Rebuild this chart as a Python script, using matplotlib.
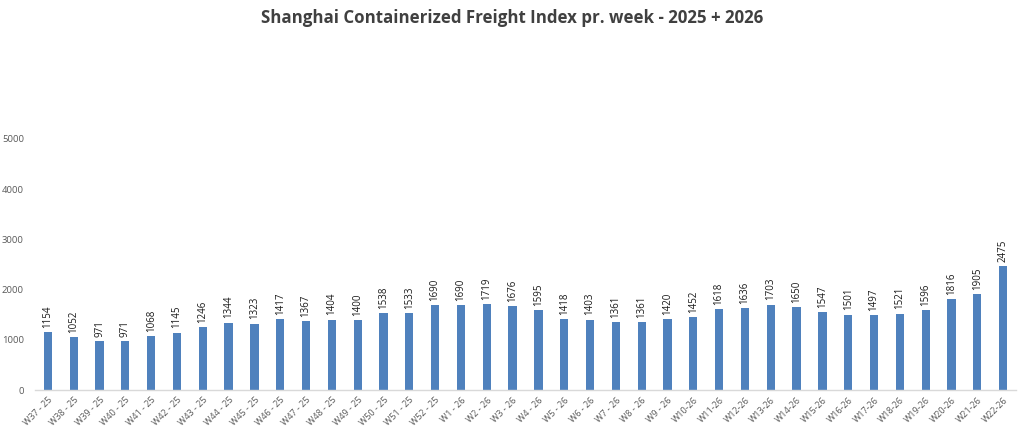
import matplotlib
matplotlib.use("Agg")
import matplotlib.pyplot as plt

weeks = [
    "W37 - 25", "W38 - 25", "W39 - 25", "W40 - 25", "W41 - 25", "W42 - 25",
    "W43 - 25", "W44 - 25", "W45 - 25", "W46 - 25", "W47 - 25", "W48 - 25",
    "W49 - 25", "W50 - 25", "W51 - 25", "W52 - 25",
    "W1 - 26", "W2 - 26", "W3 - 26", "W4 - 26", "W5 - 26", "W6 - 26",
    "W7 - 26", "W8 - 26", "W9 - 26",
    "W10-26", "W11-26", "W12-26", "W13-26", "W14-26", "W15-26", "W16-26",
    "W17-26", "W18-26", "W19-26", "W20-26", "W21-26", "W22-26",
]
scfi = [
    1154, 1052, 971, 971, 1068, 1145, 1246, 1344, 1323, 1417, 1367, 1404,
    1400, 1538, 1533, 1690,
    1690, 1719, 1676, 1595, 1418, 1403, 1361, 1361, 1420,
    1452, 1618, 1636, 1703, 1650, 1547, 1501, 1497, 1521, 1596, 1816, 1905, 2475,
]
yticks = [0, 1000, 2000, 3000, 4000, 5000]

plt.rcParams["font.family"] = ["Open Sans", "DejaVu Sans"]

W, H = 1024, 438
fig = plt.figure(figsize=(W / 100, H / 100), dpi=100)
# plot area: baseline at y=390 px, 5000 at y=139 px
ax = fig.add_axes([35 / W, (H - 390) / H, (1016 - 35) / W, (390 - 139) / H])

x = list(range(len(weeks)))
ax.bar(x, scfi, width=0.32, color="#4f81bd", zorder=2)
for xi, v in zip(x, scfi):
    ax.annotate(str(v), (xi, v), xytext=(0, 3), textcoords="offset points",
                rotation=90, ha="center", va="bottom", fontsize=7, color="#1a1a1a")

ax.set_xlim(-0.5, len(weeks) - 0.5)
ax.set_ylim(0, 5000)
ax.set_yticks(yticks)
ax.set_yticklabels([str(t) for t in yticks], fontsize=6.8, color="#595959")
ax.set_xticks(x)
ax.set_xticklabels(weeks, rotation=45, ha="right", rotation_mode="anchor",
                   fontsize=6.5, color="#595959")
ax.tick_params(axis="both", length=0, pad=4)
ax.tick_params(axis="y", pad=8)
for side in ("top", "right", "left"):
    ax.spines[side].set_visible(False)
ax.spines["bottom"].set_color("#d9d9d9")
ax.spines["bottom"].set_linewidth(1)

fig.text(0.5, 1 - 18 / H, "Shanghai Containerized Freight Index pr. week - 2025 + 2026",
         ha="center", va="center", fontsize=12.2, fontweight="bold", color="#404040")

fig.savefig("out.png", dpi=100)
